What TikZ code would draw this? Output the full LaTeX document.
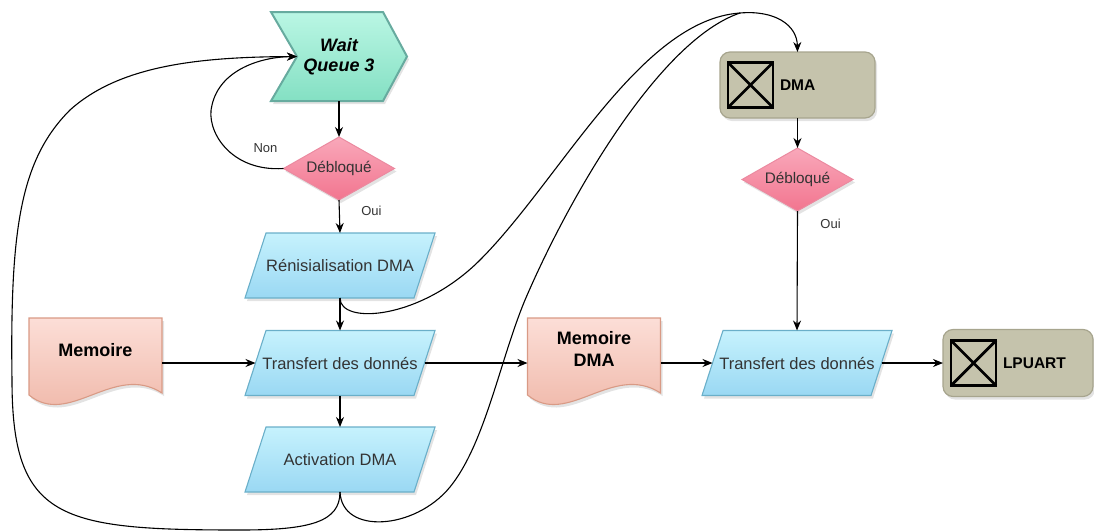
\documentclass[tikz,border=0pt]{standalone}
\usepackage{fontspec}
\setmainfont{Liberation Sans}
\usetikzlibrary{arrows.meta,calc,backgrounds,shadows}
\definecolor{waittop}{HTML}{BAF6E4}
\definecolor{waitbot}{HTML}{84E0C3}
\definecolor{waitline}{HTML}{67AB9F}
\definecolor{dectop}{HTML}{F9A8BA}
\definecolor{decbot}{HTML}{F2758F}
\definecolor{decline}{HTML}{EB8AA0}
\definecolor{paratop}{HTML}{C6F2FD}
\definecolor{parabot}{HTML}{9AD8F3}
\definecolor{paraline}{HTML}{6AAFC9}
\definecolor{doctop}{HTML}{FCDED7}
\definecolor{docbot}{HTML}{EEB3A3}
\definecolor{docline}{HTML}{D99A85}
\definecolor{hwfill}{HTML}{C5C3AC}
\definecolor{hwline}{HTML}{A7A58E}
\definecolor{txtgray}{HTML}{333333}
\begin{document}
\begin{tikzpicture}[x=1pt,y=-1pt,
  every node/.style={inner sep=0pt,outer sep=0pt},
  shd/.style={drop shadow={shadow xshift=2pt,shadow yshift=-3pt,opacity=0.22}},
  para/.style={rectangle,minimum width=169pt,minimum height=65pt,text=txtgray,font=\fontsize{16.5pt}{19pt}\selectfont},
  dec/.style={rectangle,minimum width=111pt,minimum height=63pt,text=txtgray,font=\fontsize{15.3pt}{18pt}\selectfont},
  doc/.style={rectangle,minimum width=133pt,minimum height=90pt},
  hw/.style={rectangle,rounded corners=10pt,draw=hwline,fill=hwfill,line width=1.2pt,shd},
  hwtext/.style={anchor=west,font=\fontsize{15.5pt}{18pt}\selectfont\bfseries},
  doctext/.style={font=\fontsize{18pt}{22pt}\selectfont\bfseries,align=center},
  parashape/.style={shd,draw=paraline,line width=1.1pt,top color=paratop,bottom color=parabot},
  decshape/.style={shd,draw=decline,line width=1pt,top color=dectop,bottom color=decbot},
  docshape/.style={shd,draw=docline,line width=1.1pt,top color=doctop,bottom color=docbot},
  icon/.style={draw=black,line width=2.8pt},
  lab/.style={text=txtgray,font=\fontsize{13pt}{15pt}\selectfont},
  edge/.style={draw=black,line width=1.1pt},
  ed/.style={edge,-{Stealth[length=10pt,width=8pt]}}]
\useasboundingbox (0,0) rectangle (1094,531);

% ---------- nodes ----------
\node[rectangle,minimum width=136pt,minimum height=89pt,align=center,
      font=\fontsize{18pt}{20pt}\selectfont\bfseries\itshape] (wait) at (339,56.5) {Wait\\Queue 3};
\node[dec] (d1) at (339,168.5) {Débloqué};
\node[para] (rn) at (340,265.5) {Rénisialisation DMA};
\node[para] (t1) at (340,363) {Transfert des donnés};
\node[para] (act) at (340,459.5) {Activation DMA};
\node[doc,label={[doctext,yshift=13pt]center:Memoire}] (mem) at (95.5,363) {};
\node[doc,label={[doctext,yshift=14pt]center:Memoire\\DMA}] (memdma) at (594,363) {};
\node[para] (t2) at (797,363) {Transfert des donnés};
\node[hw,minimum width=155pt,minimum height=66pt] (dma) at (797.5,85) {};
\node[hwtext] (dmat) at ($(dma.west)+(60,0)$) {DMA};
\node[dec] (d2) at (797.5,179.5) {Débloqué};
\node[hw,minimum width=150pt,minimum height=67pt] (lp) at (1018,363) {};
\node[hwtext] (lpt) at ($(lp.west)+(60,0)$) {LPUART};
\coordinate (notch) at ($(wait.west)+(26,0)$);
\coordinate (mg) at (740,13);

% ---------- icons ----------
\foreach \n in {dma,lp}{
  \begin{scope}[shift={(\n.west)}]
    \draw[icon] (8,-22.5) rectangle (53,22.5);
    \draw[icon] (8,-22.5) -- (53,22.5) (8,22.5) -- (53,-22.5);
  \end{scope}
}

% ---------- shapes ----------
\begin{scope}[on background layer]
  \path[shd,draw=waitline,line width=2pt,top color=waittop,bottom color=waitbot]
    (wait.north west) -- ($(wait.north east)+(-24,0)$) -- (wait.east)
    -- ($(wait.south east)+(-24,0)$) -- (wait.south west) -- (notch) -- cycle;
  \foreach \n in {d1,d2}{
    \path[decshape] (\n.north) -- (\n.east) -- (\n.south) -- (\n.west) -- cycle;
  }
  \foreach \n in {rn,t1,act,t2}{
    \path[parashape] ($(\n.north west)+(10.5,0)$) -- ($(\n.north east)+(10.5,0)$)
      -- ($(\n.south east)+(-10.5,0)$) -- ($(\n.south west)+(-10.5,0)$) -- cycle;
  }
  \foreach \n in {mem,memdma}{
    \begin{scope}[shift={(\n.north west)}]
      \path[docshape] (0,0) -- (133,0) -- (133,75)
        .. controls (85,44) and (40,110) .. (0,77) -- cycle;
    \end{scope}
  }
\end{scope}

% ---------- straight connectors ----------
\draw[ed] (wait.south) -- (d1.north);
\draw[ed] (d1.south) -- (rn.north) node[lab,pos=0.33,right=22pt] {Oui};
\draw[ed] (rn.south) -- (t1.north);
\draw[ed] (t1.south) -- (act.north);
\draw[ed] (mem.east) -- (t1.west);
\draw[ed] (t1.east) -- (memdma.west);
\draw[ed] (memdma.east) -- (t2.west);
\draw[ed] (t2.east) -- (lp.west);
\draw[ed] (dma.south) -- (d2.north);
\draw[ed] (d2.south) -- (t2.north) node[lab,pos=0.11,right=23pt] {Oui};

% ---------- curved connectors ----------
\draw[ed] (d1.west) .. controls (230,172) and (205,130) .. (212,105)
  .. controls (220,70) and (260,57) .. (notch);
\node[lab] (non) at ($(d1.west)+(-18,-20)$) {Non};
\draw[ed] (act.south) .. controls (340,522) and (310,530) .. (240,530)
  .. controls (60,530) and (12,520) .. (12,380)
  .. controls (10,230) and (20,160) .. (70,110)
  .. controls (120,65) and (200,57) .. (notch);
\draw[edge] (rn.south) .. controls (340,325) and (420,320) .. (480,260)
  .. controls (560,180) and (640,20) .. (mg);
\draw[edge] (act.south) .. controls (342,535) and (415,530) .. (450,487)
  .. controls (485,444) and (500,360) .. (525,300)
  .. controls (570,195) and (660,40) .. (mg);
\draw[ed] (mg) .. controls (775,10) and (797,25) .. (dma.north);
\end{tikzpicture}
\end{document}
